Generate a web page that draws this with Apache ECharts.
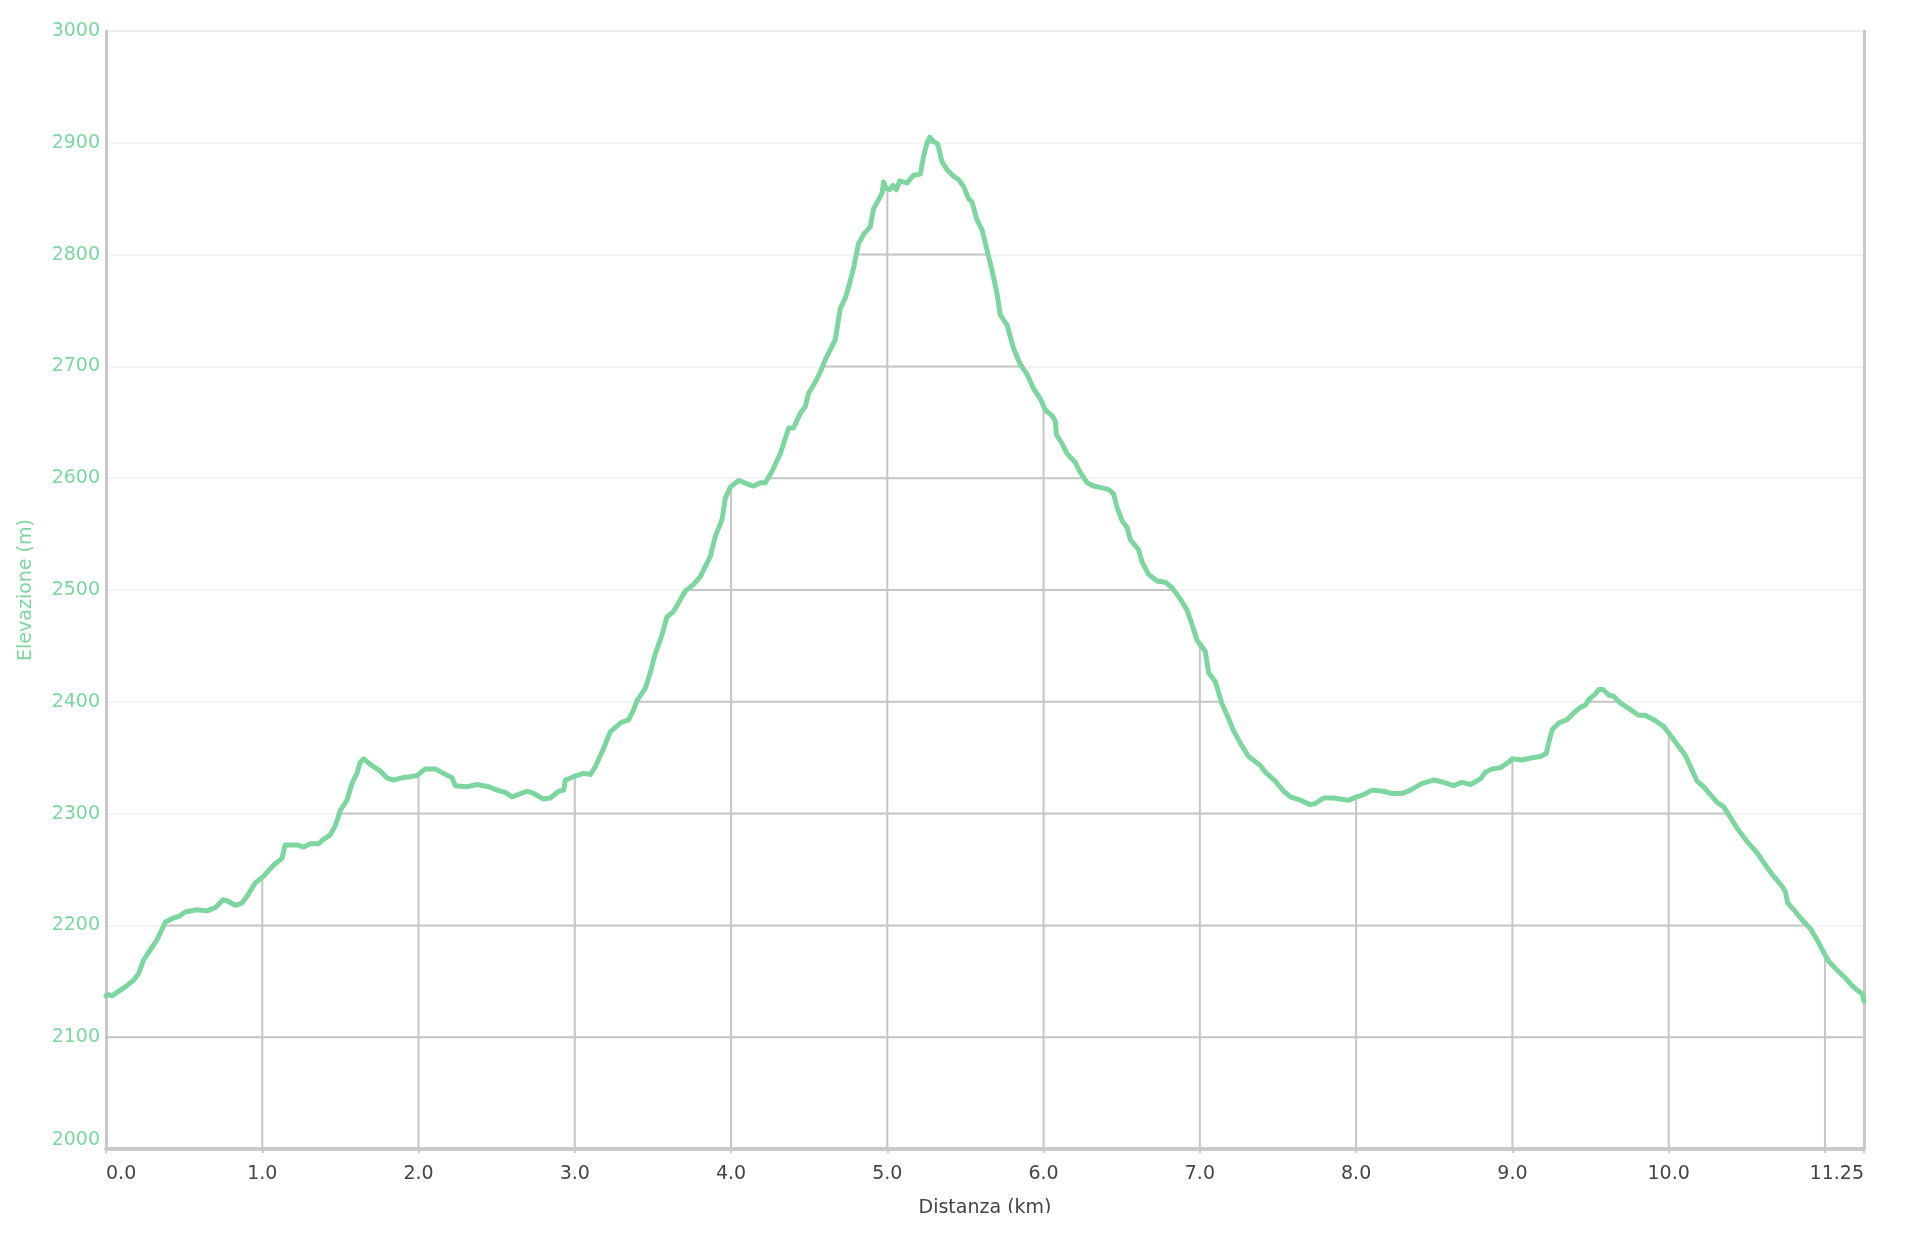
<!DOCTYPE html>
<html>
<head>
<meta charset="utf-8">
<script src="https://cdn.jsdelivr.net/npm/echarts@6/dist/echarts.min.js"></script>
<style>
html,body{margin:0;padding:0;background:#fff;}
#chart{width:1914px;height:1244px;}
</style>
</head>
<body>
<div id="chart"></div>
<script>
// Distance along the track (km)
const distanceKm = [
0.000,0.017,0.040,0.080,0.124,0.177,0.209,0.240,0.283,0.326,0.380,0.422,0.465,0.507,0.582,0.646,0.700,0.749,0.774,0.827,
0.870,0.902,0.955,1.009,1.073,1.126,1.147,1.222,1.265,1.307,1.361,1.382,1.435,1.467,1.500,1.542,1.574,1.606,1.627,1.649,
1.691,1.755,1.798,1.840,1.894,1.947,1.990,2.043,2.107,2.160,2.214,2.235,2.310,2.374,2.449,2.502,2.555,2.598,2.694,2.737,
2.800,2.843,2.897,2.929,2.939,2.992,3.056,3.100,3.131,3.174,3.227,3.291,3.345,3.377,3.398,3.451,3.483,3.515,3.558,3.590,
3.633,3.686,3.707,3.760,3.803,3.867,3.899,3.942,3.963,3.995,4.048,4.102,4.144,4.187,4.219,4.262,4.315,4.369,4.400,4.443,
4.475,4.496,4.539,4.571,4.603,4.667,4.699,4.731,4.752,4.784,4.816,4.848,4.891,4.912,4.944,4.966,4.976,4.993,5.015,5.036,
5.058,5.079,5.126,5.168,5.211,5.232,5.254,5.271,5.296,5.322,5.350,5.382,5.424,5.456,5.488,5.520,5.542,5.574,5.606,5.638,
5.670,5.702,5.723,5.766,5.808,5.851,5.894,5.936,5.979,6.011,6.054,6.075,6.082,6.118,6.150,6.203,6.235,6.278,6.320,6.416,
6.448,6.470,6.502,6.534,6.555,6.608,6.630,6.672,6.726,6.779,6.822,6.875,6.918,6.950,6.982,7.035,7.056,7.099,7.142,7.184,
7.216,7.259,7.312,7.387,7.419,7.483,7.536,7.579,7.643,7.707,7.739,7.792,7.856,7.952,8.005,8.048,8.102,8.176,8.230,8.294,
8.347,8.422,8.496,8.560,8.624,8.678,8.731,8.795,8.827,8.870,8.923,8.976,8.998,9.062,9.126,9.179,9.217,9.232,9.254,9.296,
9.350,9.392,9.435,9.467,9.488,9.531,9.552,9.580,9.616,9.648,9.691,9.755,9.808,9.851,9.904,9.936,9.968,10.000,10.043,10.107,
10.139,10.182,10.224,10.267,10.310,10.352,10.384,10.438,10.502,10.566,10.619,10.672,10.726,10.747,10.762,10.800,10.854,10.907,10.950,10.988,
11.024,11.078,11.131,11.174,11.216,11.238,11.250
];
// Elevation (m)
const elevationM = [
2137,2138,2137,2141,2145,2151,2157,2169,2178,2187,2203,2206,2208,2212,2214,2213,2216,2223,2222,2218,
2220,2226,2238,2244,2254,2260,2272,2272,2270,2273,2273,2276,2281,2289,2303,2312,2327,2336,2346,2349,
2344,2338,2332,2330,2332,2333,2334,2340,2340,2336,2332,2325,2324,2326,2324,2321,2319,2315,2320,2318,
2313,2314,2320,2321,2330,2333,2336,2335,2342,2355,2373,2381,2384,2393,2401,2412,2426,2443,2460,2476,
2481,2494,2499,2505,2512,2530,2548,2563,2582,2592,2598,2595,2593,2596,2596,2606,2622,2645,2645,2658,
2664,2676,2686,2695,2706,2724,2752,2761,2771,2788,2810,2818,2825,2841,2849,2855,2865,2859,2858,2862,
2858,2866,2864,2871,2872,2888,2900,2905,2901,2899,2883,2876,2870,2867,2861,2850,2847,2831,2822,2804,
2786,2765,2746,2737,2716,2702,2693,2680,2671,2661,2656,2651,2639,2631,2622,2614,2605,2596,2593,2590,
2586,2574,2562,2556,2545,2536,2525,2514,2508,2507,2502,2492,2482,2469,2455,2445,2426,2418,2398,2385,
2374,2363,2351,2343,2337,2329,2320,2315,2312,2308,2309,2314,2314,2312,2315,2317,2321,2320,2318,2318,
2321,2327,2330,2328,2325,2328,2326,2331,2337,2340,2341,2346,2349,2348,2350,2351,2354,2363,2375,2381,
2384,2390,2395,2397,2402,2407,2411,2411,2406,2405,2399,2393,2388,2388,2384,2381,2378,2372,2364,2352,
2342,2329,2324,2317,2310,2306,2299,2287,2275,2265,2254,2244,2235,2230,2220,2214,2205,2197,2187,2177,
2168,2160,2153,2146,2141,2139,2132
];
// Grid levels / ticks
const yGridLevels = [2100,2200,2300,2400,2500,2600,2700,2800,2900];
const xGridKm = [1,2,3,4,5,6,7,8,9,10,11];

const GREEN = '#7dd6a0';
const FONT = 'DejaVu Sans';

const chart = echarts.init(document.getElementById('chart'));

function elevAt(x) {
  for (let i = 0; i < distanceKm.length - 1; i++) {
    const a = distanceKm[i], b = distanceKm[i + 1];
    if (x >= a && x <= b) {
      const t = b === a ? 0 : (x - a) / (b - a);
      return elevationM[i] + t * (elevationM[i + 1] - elevationM[i]);
    }
  }
  return elevationM[elevationM.length - 1];
}

function segmentsAbove(level) {
  const segs = [];
  let start = elevationM[0] >= level ? distanceKm[0] : null;
  for (let i = 0; i < distanceKm.length - 1; i++) {
    const e0 = elevationM[i], e1 = elevationM[i + 1];
    const d0 = distanceKm[i], d1 = distanceKm[i + 1];
    if ((e0 < level) !== (e1 < level)) {
      const xc = d0 + (level - e0) / (e1 - e0) * (d1 - d0);
      if (start === null) start = xc; else { segs.push([start, xc]); start = null; }
    }
  }
  if (start !== null) segs.push([start, distanceKm[distanceKm.length - 1]]);
  return segs;
}

const underStyle = { stroke: '#c6c6c6', lineWidth: 2 };

function renderUnderGrid(params, api) {
  const children = [];
  xGridKm.forEach(function (x) {
    const p0 = api.coord([x, 2000]);
    const p1 = api.coord([x, elevAt(x)]);
    children.push({ type: 'line', shape: { x1: p0[0], y1: p0[1], x2: p1[0], y2: p1[1] }, style: underStyle, silent: true });
  });
  yGridLevels.forEach(function (lv) {
    segmentsAbove(lv).forEach(function (s) {
      const p0 = api.coord([s[0], lv]);
      const p1 = api.coord([s[1], lv]);
      children.push({ type: 'line', shape: { x1: p0[0], y1: p0[1], x2: p1[0], y2: p1[1] }, style: underStyle, silent: true });
    });
  });
  return { type: 'group', children: children };
}

const option = {
  backgroundColor: '#ffffff',
  animation: false,
  grid: { left: 106, right: 50, top: 31, bottom: 95, show: true, borderColor: '#d2d2d2', borderWidth: 1 },
  xAxis: {
    type: 'value', min: 0, max: 11.25, interval: 1,
    name: 'Distanza (km)', nameLocation: 'middle', nameGap: 50,
    nameTextStyle: { color: '#444', fontSize: 19, fontFamily: FONT },
    axisLine: { show: true, lineStyle: { color: '#cacaca', width: 4 } },
    axisTick: { show: true, length: 4, lineStyle: { color: '#cacaca', width: 2 } },
    splitLine: { show: false },
    axisLabel: {
      color: '#444', fontSize: 19, fontFamily: FONT, margin: 16,
      alignMinLabel: 'left', alignMaxLabel: 'right',
      formatter: function (v) {
        if (Math.abs(v - 11.25) < 1e-6) return '11.25';
        if (Math.abs(v - 11) < 1e-6) return '';
        return v.toFixed(1);
      }
    }
  },
  yAxis: [{
    type: 'value', min: 2000, max: 3000, interval: 100,
    name: 'Elevazione (m)', nameLocation: 'middle', nameGap: 70,
    nameTextStyle: { color: GREEN, fontSize: 19, fontFamily: FONT },
    axisLine: { show: true, lineStyle: { color: '#c8c8c8', width: 3 } },
    axisTick: { show: false },
    splitLine: { show: true, lineStyle: { color: '#f1f1f1', width: 1.5 } },
    axisLabel: {
      color: GREEN, fontSize: 19, fontFamily: FONT, margin: 6,
      formatter: function (v) { return v === 2000 ? '{low|' + v + '}' : String(v); },
      rich: { low: { color: GREEN, fontSize: 19, fontFamily: FONT, padding: [0, 0, 18, 0] } }
    }
  }, {
    type: 'value', min: 2000, max: 3000, interval: 100, position: 'right',
    axisLine: { show: true, lineStyle: { color: '#c8c8c8', width: 3 } },
    axisTick: { show: false }, axisLabel: { show: false }, splitLine: { show: false }
  }],
  series: [{
    type: 'custom',
    coordinateSystem: 'cartesian2d',
    data: [[0, 2000]],
    renderItem: renderUnderGrid,
    silent: true,
    z: 1
  }, {
    type: 'line',
    data: distanceKm.map(function (d, i) { return [d, elevationM[i]]; }),
    showSymbol: false,
    symbol: 'none',
    smooth: false,
    lineStyle: { color: GREEN, width: 5, cap: 'round', join: 'round' },
    z: 3
  }],
  graphic: [{
    type: 'rect', left: 0, top: 1213, shape: { width: 1914, height: 31 },
    style: { fill: '#ffffff' }, z: 100, silent: true
  }]
};

chart.setOption(option);
</script>
</body>
</html>
